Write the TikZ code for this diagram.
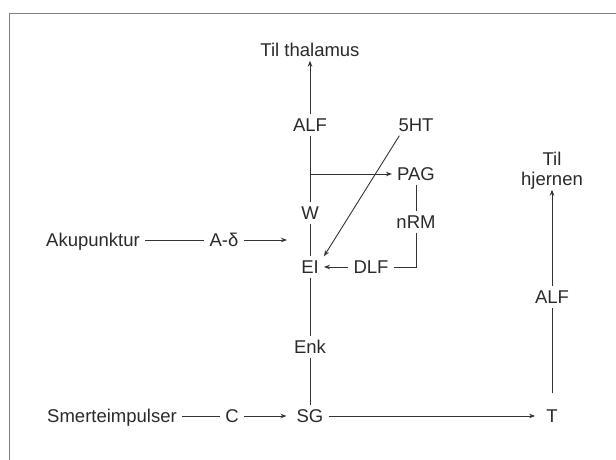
\documentclass[tikz,border=0pt]{standalone}
\usepackage{fontspec}
\setmainfont{Liberation Sans}
\usetikzlibrary{arrows.meta,calc}
\definecolor{txt}{HTML}{2A2A2A}
\definecolor{lin}{HTML}{333333}
\definecolor{frm}{HTML}{808080}
\begin{document}
\begin{tikzpicture}[x=1pt,y=-1pt,
  lbl/.style={inner xsep=5pt, inner ysep=4pt, text height=13pt, text depth=0pt,
    text=txt, font=\fontsize{18.5}{20.5}\selectfont},
  ln/.style={draw=lin, line width=0.9pt},
  arr/.style={ln, -{Stealth[length=6pt,width=4.5pt]}},
]
\useasboundingbox (0,0) rectangle (616,460);
\draw[frm, line width=1.4pt] (9.5,461) -- (9.5,13.5) -- (617,13.5);

\node[lbl] (thal) at (310,50) {Til thalamus};
\node[lbl] (alf1) at (310,125) {ALF};
\node[lbl] (ht) at (416,125) {5HT};
\node[lbl] (pag) at (416,174) {PAG};
\node[lbl] (w) at (310,213) {W};
\node[lbl] (nrm) at (416,222) {nRM};
\node[lbl] (aku) at (93,240) {Akupunktur};
\node[lbl] (ad) at (224,240) {A-δ};
\coordinate (adend) at (287,240);
\node[lbl] (ei) at (310,267) {EI};
\node[lbl] (dlf) at (371,267) {DLF};
\node[lbl] (enk) at (310,347) {Enk};
\node[lbl] (sm) at (112,416) {Smerteimpulser};
\node[lbl] (c) at (232,416) {C};
\node[lbl] (sg) at (310,416) {SG};
\node[lbl] (t) at (552,416) {T};
\node[lbl] (alf2) at (552,297) {ALF};
\node[lbl, align=center] (hj) at (552,179) {Til\\hjernen};

\draw[arr] (alf1) -- (thal);
\draw[ln] (alf1) -- (w);
\draw[ln] (w) -- (ei);
\draw[ln] (ei) -- (enk);
\draw[ln] (enk) -- (sg);
\draw[arr] (w.north |- pag.west) -- (pag.west);
\draw[arr] ([xshift=6pt]ht.south west) -- (ei.north east);
\draw[ln] (pag) -- (nrm);
\draw[ln] (nrm.south) |- (dlf.east);
\draw[arr] (dlf.west) -- (ei.east);
\draw[ln] (aku.east) -- (ad.west);
\draw[arr] (ad.east) -- (adend);
\draw[ln] (sm.east) -- (c.west);
\draw[arr, shorten >=5pt] (c.east) -- (sg.west);
\draw[arr, shorten >=6pt] (sg.east) -- (t.west);
\draw[ln, shorten <=12pt] (t.north) -- (alf2.south);
\draw[arr, shorten >=0pt] (alf2.north) -- (hj.south);
\end{tikzpicture}
\end{document}
